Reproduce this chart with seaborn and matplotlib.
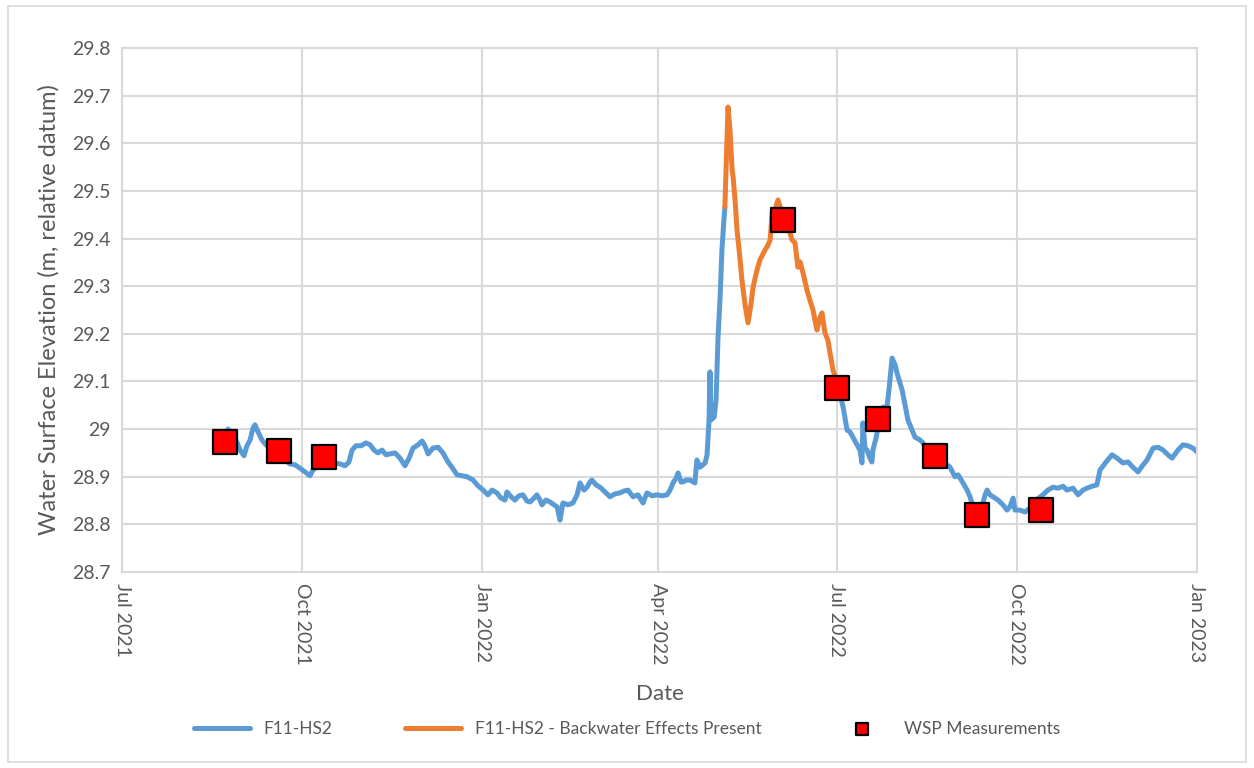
import pandas as pd
import numpy as np
import matplotlib
matplotlib.use("Agg")
import matplotlib.pyplot as plt
import matplotlib.dates as mdates
from matplotlib.patches import Rectangle
import seaborn as sns

# days counted from 1 Jul 2021
START = pd.Timestamp("2021-07-01")

blue_a_days = [54.1, 55.6, 58.2, 60.3, 62.3, 63.8, 65.4, 66.9, 67.9, 69.5, 71.5, 73.5, 75.6, 78.1,
               80.7, 83.2, 85.8, 88.4, 90.9, 93.5, 96.0, 97.5, 100.1, 102.6, 106.2, 108.7, 111.3,
               113.9, 115.9, 117.5, 119.5, 122.1, 124.6, 126.7, 128.7, 130.7, 132.8, 134.8, 136.9,
               139.4, 142.0, 144.5, 146.6, 148.6, 151.2, 153.2, 154.7, 156.3, 158.8, 161.4, 163.9,
               166.5, 168.5, 171.1, 173.6, 176.2, 179.3, 181.8, 184.4, 186.9, 189.0, 191.5, 193.6,
               195.6, 196.6, 198.7, 200.7, 202.7, 204.8, 206.8, 208.4, 210.4, 211.9, 213.5, 214.5,
               216.5, 218.6, 220.6, 222.2, 223.7, 225.2, 227.8, 230.3, 232.4, 233.9, 235.9, 237.5,
               239.0, 240.0, 242.1, 244.1, 246.7, 249.2, 251.8, 254.3, 256.4, 258.4, 261.0, 263.5,
               266.1, 268.1, 270.7, 273.2, 275.8, 278.4, 279.9, 281.4, 283.0, 284.0, 285.5, 286.5,
               288.1, 290.1, 292.6, 293.6, 295.2, 297.8, 298.8, 299.8, 300.3, 300.8, 302.4, 303.4,
               304.4, 305.4, 306.4, 307.4, 307.9]
blue_a_vals = [29.000, 28.994, 28.977, 28.956, 28.944, 28.965, 28.977, 29.002, 29.009, 28.994,
               28.977, 28.967, 28.960, 28.952, 28.946, 28.935, 28.927, 28.925, 28.918, 28.910,
               28.902, 28.914, 28.923, 28.931, 28.935, 28.929, 28.927, 28.923, 28.931, 28.956,
               28.965, 28.965, 28.971, 28.967, 28.956, 28.950, 28.956, 28.946, 28.948, 28.950,
               28.939, 28.923, 28.939, 28.960, 28.967, 28.975, 28.965, 28.948, 28.960, 28.962,
               28.950, 28.931, 28.920, 28.904, 28.902, 28.900, 28.893, 28.881, 28.872, 28.862,
               28.872, 28.866, 28.855, 28.851, 28.868, 28.858, 28.851, 28.860, 28.862, 28.849,
               28.847, 28.855, 28.862, 28.851, 28.841, 28.851, 28.847, 28.841, 28.837, 28.809,
               28.845, 28.841, 28.845, 28.862, 28.887, 28.872, 28.878, 28.889, 28.893, 28.883,
               28.878, 28.868, 28.858, 28.864, 28.866, 28.870, 28.872, 28.858, 28.862, 28.845,
               28.866, 28.860, 28.862, 28.860, 28.862, 28.872, 28.887, 28.897, 28.908, 28.889,
               28.889, 28.893, 28.893, 28.887, 28.935, 28.920, 28.929, 28.946, 29.019, 29.120,
               29.019, 29.025, 29.061, 29.193, 29.271, 29.376, 29.439, 29.466]

orange_days = [307.9, 309.5, 310.5, 311.6, 312.1, 313.1, 314.1, 315.6, 316.6, 318.2, 319.7,
               321.2, 322.3, 324.3, 325.8, 328.4, 329.9, 331.0, 332.0, 333.5, 335.0, 337.6,
               340.1, 342.2, 343.7, 345.2, 346.3, 347.8, 349.8, 351.3, 352.9, 354.9, 356.4,
               357.5, 359.0, 360.5, 361.6, 363.1, 365.2]
orange_vals = [29.466, 29.676, 29.628, 29.544, 29.529, 29.481, 29.418, 29.359, 29.313, 29.261,
               29.223, 29.261, 29.298, 29.334, 29.355, 29.376, 29.386, 29.397, 29.454, 29.460,
               29.481, 29.449, 29.428, 29.397, 29.391, 29.340, 29.351, 29.328, 29.292, 29.271,
               29.250, 29.208, 29.233, 29.244, 29.202, 29.187, 29.160, 29.124, 29.099]

blue_b_days = [365.2, 366.7, 368.3, 370.3, 371.8, 373.3, 375.4, 376.9, 377.9, 378.4, 379.5,
               380.5, 382.0, 383.0, 383.5, 385.1, 386.1, 387.6, 388.7, 390.7, 391.7, 393.3,
               394.8, 395.8, 398.4, 399.9, 401.4, 403.5, 405.0, 407.6, 409.1, 411.1, 412.7,
               415.7, 419.3, 421.3, 422.9, 425.4, 427.0, 429.5, 431.6, 433.1, 434.6, 437.2,
               439.2, 440.8, 441.8, 443.3, 444.8, 447.4, 449.9, 452.0, 453.5, 455.1, 456.1,
               458.6, 461.2, 463.7, 466.8, 470.3, 472.9, 475.5, 478.0, 480.6, 482.6, 485.7,
               488.3, 490.8, 492.8, 495.4, 497.9, 499.5, 502.6, 505.6, 508.2, 511.2, 513.8,
               516.3, 518.9, 521.5, 523.5, 526.6, 529.1, 531.7, 534.2, 536.3, 539.3, 541.9,
               544.4, 547.0, 549.0]
blue_b_vals = [29.099, 29.072, 29.046, 28.998, 28.994, 28.983, 28.967, 28.956, 28.929, 29.013,
               28.960, 28.956, 28.939, 28.931, 28.956, 28.981, 29.004, 29.030, 29.046, 29.046,
               29.082, 29.149, 29.135, 29.118, 29.082, 29.051, 29.019, 28.998, 28.983, 28.977,
               28.971, 28.956, 28.950, 28.939, 28.929, 28.925, 28.920, 28.900, 28.904, 28.887,
               28.872, 28.858, 28.837, 28.837, 28.837, 28.862, 28.872, 28.862, 28.858, 28.851,
               28.841, 28.830, 28.837, 28.855, 28.830, 28.830, 28.826, 28.834, 28.851, 28.862,
               28.872, 28.878, 28.876, 28.880, 28.872, 28.876, 28.862, 28.872, 28.876, 28.880,
               28.883, 28.914, 28.931, 28.946, 28.939, 28.929, 28.931, 28.920, 28.910, 28.925,
               28.935, 28.960, 28.962, 28.956, 28.946, 28.939, 28.956, 28.967, 28.965, 28.960,
               28.952]

wsp_days = [52.6, 80.3, 103.0, 337.7, 365.3, 386.3, 415.2, 436.5, 469.2]
wsp_vals = [28.973, 28.955, 28.941, 29.439, 29.086, 29.021, 28.944, 28.820, 28.830]

y_ticks = [28.7, 28.8, 28.9, 29.0, 29.1, 29.2, 29.3, 29.4, 29.5, 29.6, 29.7, 29.8]


def to_df(days, vals):
    return pd.DataFrame({"date": START + pd.to_timedelta(days, unit="D"), "wse": vals})


blue_a = to_df(blue_a_days, blue_a_vals)
blue_b = to_df(blue_b_days, blue_b_vals)
orange = to_df(orange_days, orange_vals)
wsp = to_df(wsp_days, wsp_vals)

sns.set_style("white")
plt.rcParams["font.family"] = ["Lato", "DejaVu Sans"]
grey_txt = "#595959"
grid_c = "#d9d9d9"

fig = plt.figure(figsize=(12.54, 7.68), dpi=100)
ax = fig.add_axes([0.0973, 0.2552, 0.8572, 0.6823])

sns.lineplot(data=blue_a, x="date", y="wse", ax=ax, color="#5B9BD5", lw=3.6, label="F11-HS2")
sns.lineplot(data=blue_b, x="date", y="wse", ax=ax, color="#5B9BD5", lw=3.6, label="_nolegend_")
sns.lineplot(data=orange, x="date", y="wse", ax=ax, color="#ED7D31", lw=3.6,
             label="F11-HS2 - Backwater Effects Present")
sns.scatterplot(data=wsp, x="date", y="wse", ax=ax, marker="s", s=300, color="#FF0000",
                edgecolor="black", linewidth=1.6, zorder=5, label="WSP Measurements")

ax.set_xlim(START, pd.Timestamp("2023-01-01"))
ax.set_ylim(28.7, 29.8)
ax.set_yticks(y_ticks)
ax.set_yticklabels([f"{round(v, 1):g}" for v in y_ticks])
ax.xaxis.set_major_locator(mdates.MonthLocator(bymonth=[1, 4, 7, 10]))
ax.xaxis.set_major_formatter(mdates.DateFormatter("%b %Y"))
for lab in ax.get_xticklabels():
    lab.set_rotation(-90)

ax.grid(True, color=grid_c, lw=1.5)
for s in ax.spines.values():
    s.set_color(grid_c)
    s.set_linewidth(1.5)
ax.tick_params(length=0, labelsize=14, colors=grey_txt, pad=8)
ax.set_xlabel("Date", fontsize=16, color=grey_txt, labelpad=14)
ax.set_ylabel("Water Surface Elevation (m, relative datum)", fontsize=17, color=grey_txt,
              labelpad=9)

handles, labels = ax.get_legend_handles_labels()
ax.get_legend().remove()
leg = fig.legend(handles, labels, loc="lower center", bbox_to_anchor=(0.5, 0.02), ncol=3,
                 frameon=False, fontsize=12.5, handlelength=3.2, columnspacing=4.2,
                 markerscale=0.5)
for t in leg.get_texts():
    t.set_color(grey_txt)

fig.patches.append(Rectangle((0.006, 0.008), 0.988, 0.984, transform=fig.transFigure,
                             fill=False, edgecolor=grid_c, lw=1.2))

fig.savefig("out.png", dpi=100)
